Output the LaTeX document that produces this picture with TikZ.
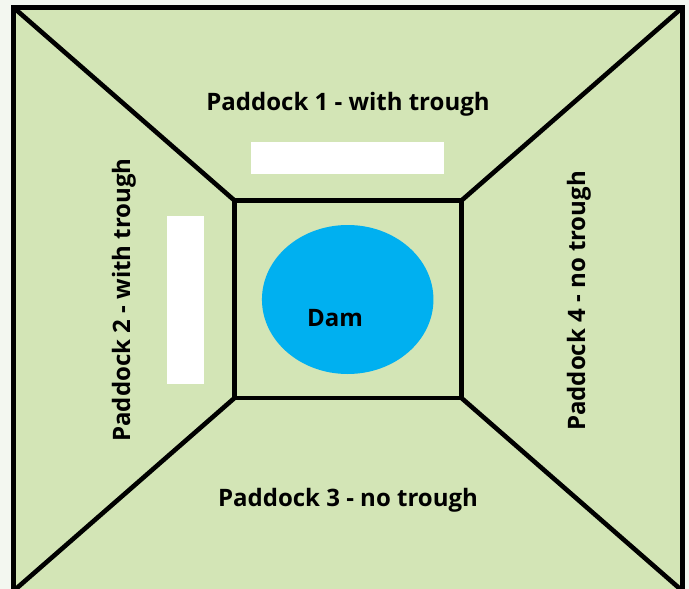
\documentclass[tikz,border=0pt]{standalone}
\usepackage{fontspec}
\setmainfont{Open Sans}
\usetikzlibrary{shapes.geometric}
\definecolor{bgout}{HTML}{F3F7F0}
\definecolor{grass}{HTML}{D3E5B6}
\definecolor{damblue}{HTML}{00B0F0}
\tikzset{
  fence/.style={draw=black, line width=4.6pt, line join=miter},
  trough/.style={fill=white, draw=none},
  lbl/.style={font=\fontsize{24}{28}\selectfont\bfseries, text=black, inner sep=0pt}
}
\begin{document}
\begin{tikzpicture}[x=1pt,y=-1pt]
\useasboundingbox (0,0) rectangle (689,589);
\fill[bgout] (0,0) rectangle (689,589);
\begin{scope}
\clip (0,0) rectangle (689,589);
\coordinate (OTL) at (13.5,7.5);
\coordinate (OTR) at (682.5,7.5);
\coordinate (OBR) at (682.5,591);
\coordinate (OBL) at (13.5,591);
\coordinate (ITL) at (234.5,200.5);
\coordinate (ITR) at (461.5,200.5);
\coordinate (IBR) at (461.5,398);
\coordinate (IBL) at (234.5,398);
\path[fill=grass] (OTL) -- (OTR) -- (OBR) -- (OBL) -- cycle;
\path[trough] (251,142) rectangle (444,173.5);
\path[trough] (167,216) rectangle (204,383.5);
\draw[fence] (OTL) -- (ITL);
\draw[fence] (OTR) -- (ITR);
\draw[fence] (OBL) -- (IBL);
\draw[fence] (OBR) -- (IBR);
\draw[fence] (ITL) -- (ITR) -- (IBR) -- (IBL) -- cycle;
\draw[fence] (OTL) -- (OTR) -- (OBR) -- (OBL) -- cycle;
\node[ellipse, fill=damblue, minimum width=171.5pt, minimum height=149pt, inner sep=0pt] (dam) at (347.7,299.5) {};
\end{scope}
\node[lbl] (dl) at (335,318) {Dam};
\node[lbl] (p1) at (348,104) {Paddock 1 - with trough};
\node[lbl, rotate=90] (p2) at (124,300) {Paddock 2 - with trough};
\node[lbl] (p3) at (348,500) {Paddock 3 - no trough};
\node[lbl, rotate=90] (p4) at (579,301) {Paddock 4 - no trough};
\end{tikzpicture}
\end{document}
